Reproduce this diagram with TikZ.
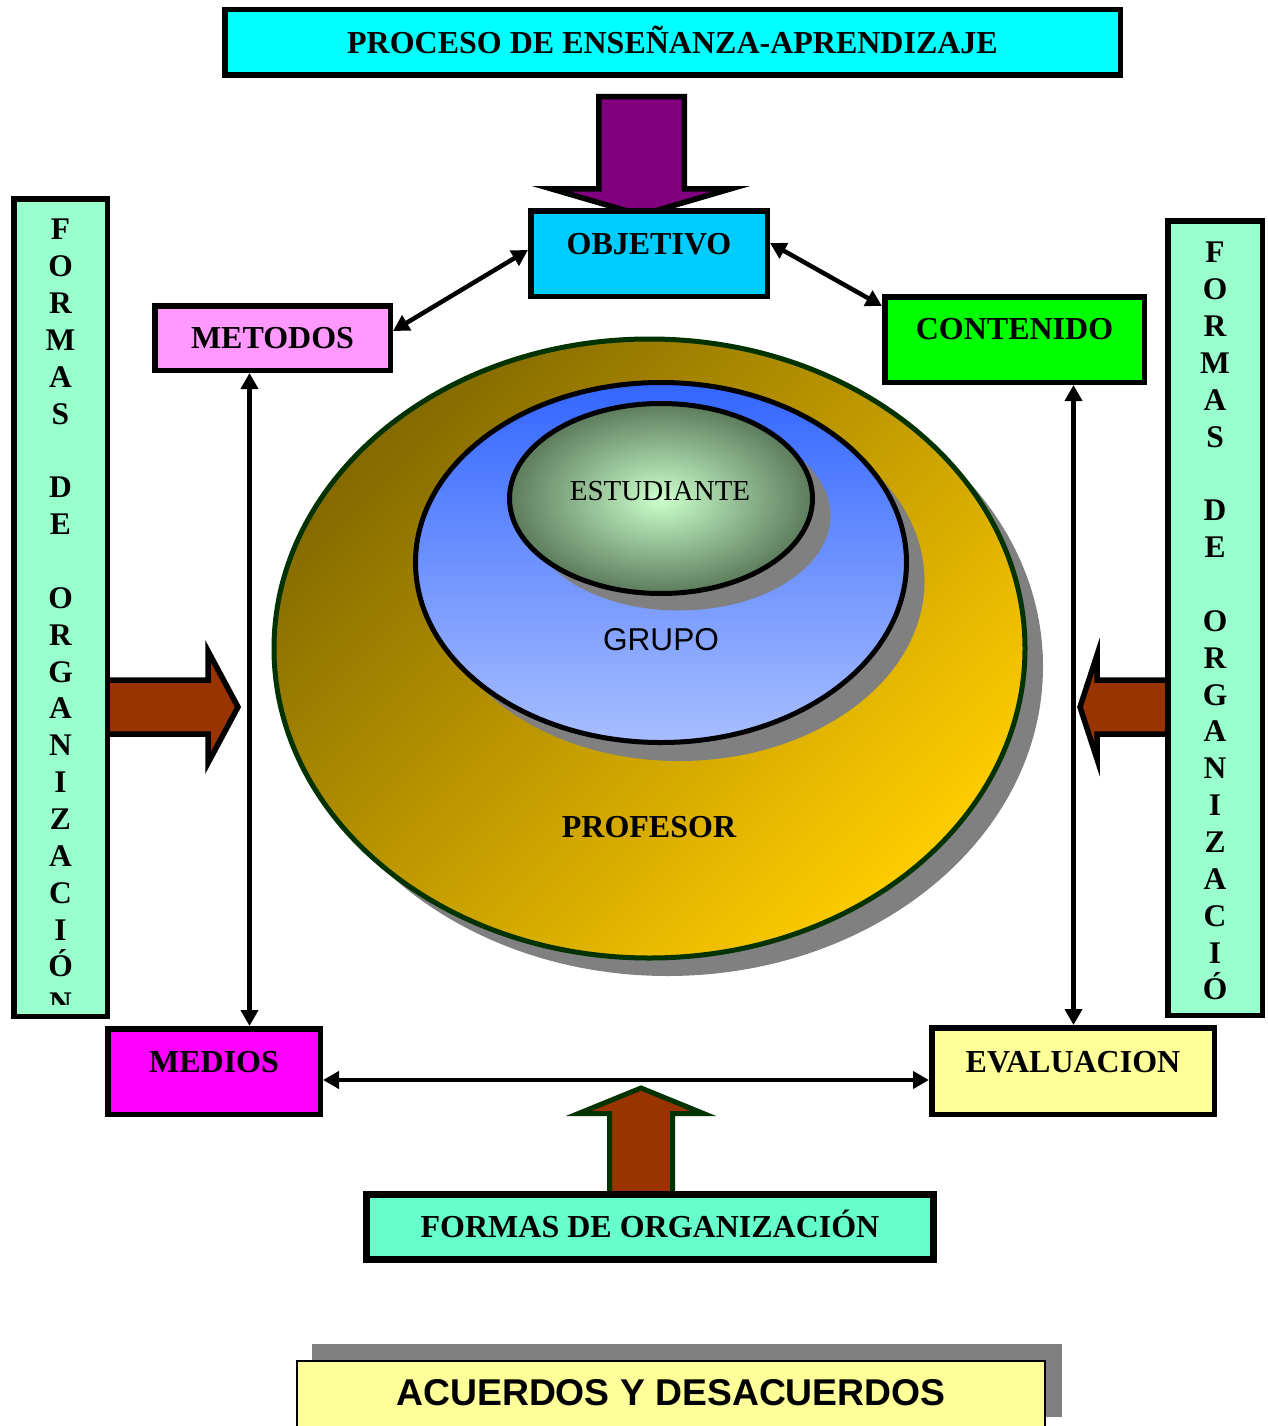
\documentclass[tikz,border=0pt]{standalone}
\usepackage{fontspec}
\setmainfont{Liberation Serif}
\setsansfont{Liberation Sans}
\usetikzlibrary{arrows.meta}
\definecolor{cyanT}{HTML}{00FFFF}
\definecolor{objC}{HTML}{00CCFF}
\definecolor{metC}{HTML}{FF99FF}
\definecolor{conC}{HTML}{00FF00}
\definecolor{medC}{HTML}{FF00FF}
\definecolor{evaC}{HTML}{FFFF99}
\definecolor{forC}{HTML}{66FFCC}
\definecolor{mintC}{HTML}{99FFCC}
\definecolor{purpC}{HTML}{800080}
\definecolor{brownC}{HTML}{993300}
\definecolor{dgreenC}{HTML}{003300}
\definecolor{shadowC}{HTML}{808080}
\definecolor{goldA}{HTML}{846A00}
\definecolor{goldB}{HTML}{FFCC00}
\definecolor{blueA}{HTML}{3366FF}
\definecolor{blueB}{HTML}{A8BEFF}
\definecolor{greenA}{HTML}{CCFFCC}
\definecolor{greenB}{HTML}{5C7C5C}
\tikzset{
  bx/.style={draw=black, line width=5.5pt, inner sep=0pt,
    font=\fontsize{32}{37}\selectfont\bfseries, text height=21.2pt, text depth=0pt},
  dbl/.style={line width=4.5pt,
    arrows={Triangle[length=16pt,width=17pt]-Triangle[length=16pt,width=17pt]}},
  blk/.style={line width=5.5pt, line join=miter},
  vtext/.style={font=\fontsize{31.5}{36.85}\selectfont\bfseries, align=center,
    inner sep=0pt, anchor=north},
}
\begin{document}
\begin{tikzpicture}[x=1pt,y=-1pt]
\useasboundingbox (0,0) rectangle (1268,1426);
\fill[white] (0,0) rectangle (1268,1426);

% top arrow and boxes
\draw[blk, fill=purpC] (598.75,96.75) -- (684.25,96.75) -- (684.25,188.75) -- (731,188.75)
  -- (641,215) -- (551,188.75) -- (598.75,188.75) -- cycle;
\node[bx, fill=cyanT, minimum width=895.5, minimum height=65.5] (proceso) at (672.5,42.5)
  {PROCESO DE ENSEÑANZA-APRENDIZAJE};
\node[bx, fill=objC, minimum width=236.5, minimum height=85.5, text depth=20pt] (objetivo)
  at (649,253.5) {OBJETIVO};

% ellipses
\fill[shadowC] (667.5,666.5) ellipse [x radius=375.5, y radius=309.5];
\path[draw=dgreenC, line width=5pt, top color=goldA, bottom color=goldB, shading angle=45]
  (649.5,648.5) ellipse [x radius=375.5, y radius=309.5];
\fill[shadowC] (679,581) ellipse [x radius=245.5, y radius=180];
\path[draw=black, line width=5pt, top color=blueA, bottom color=blueB]
  (661,562.5) ellipse [x radius=245.5, y radius=180];
\fill[shadowC] (679,515.5) ellipse [x radius=151.5, y radius=95];
\path[draw=black, line width=5pt, inner color=greenA, outer color=greenB]
  (661,498.5) ellipse [x radius=151.5, y radius=95];
\node[inner sep=0pt, font=\fontsize{29}{34}\selectfont, text height=19.2pt, text depth=0pt]
  (estudiante) at (660,490.5) {ESTUDIANTE};
\node[inner sep=0pt, font=\fontsize{31.6}{36}\selectfont\sffamily, text height=22.6pt, text depth=0pt]
  (grupo) at (661,639) {GRUPO};
\node[inner sep=0pt, font=\fontsize{32}{37}\selectfont\bfseries, text height=21.2pt, text depth=0pt]
  (profesor) at (649,826.5) {PROFESOR};

% corner boxes
\node[bx, fill=metC, minimum width=235.5, minimum height=64.5] (metodos) at (272.5,338) {METODOS};
\node[bx, fill=conC, minimum width=259.5, minimum height=85.5, text depth=21pt] (contenido)
  at (1014.5,339.5) {CONTENIDO};
\node[bx, fill=medC, minimum width=212.5, minimum height=85.5, text depth=19pt] (medios)
  at (214,1071.5) {MEDIOS};
\node[bx, fill=evaC, minimum width=282.5, minimum height=86.5, text depth=18pt] (evaluacion)
  at (1073,1071) {EVALUACION};

% side arrows
\draw[blk, fill=brownC] (100,680) -- (208,680) -- (208,651) -- (238,707) -- (208,763)
  -- (208,734) -- (100,734) -- cycle;
\draw[blk, fill=brownC] (1175,680) -- (1097,680) -- (1097,655) -- (1080,707) -- (1097,759)
  -- (1097,734) -- (1175,734) -- cycle;

% vertical boxes
\node[bx, fill=mintC, minimum width=93.5, minimum height=817.5] (formasL) at (60.5,607.5) {};
\begin{scope}
  \clip (14,200) rectangle (107,1004);
  \node[vtext] (formasLtext) at (60.5,219.1)
    {F\\O\\R\\M\\A\\S\\~\\D\\E\\~\\O\\R\\G\\A\\N\\I\\Z\\A\\C\\I\\Ó\\N};
\end{scope}
\node[bx, fill=mintC, minimum width=94.5, minimum height=794.5] (formasR) at (1215,618) {};
\begin{scope}
  \clip (1168,222) rectangle (1262,1003);
  \node[vtext] (formasRtext) at (1215,242.1)
    {F\\O\\R\\M\\A\\S\\~\\D\\E\\~\\O\\R\\G\\A\\N\\I\\Z\\A\\C\\I\\Ó\\N};
\end{scope}

% connectors
\coordinate (lx) at (249.5,0);
\coordinate (rx) at (1073.5,0);
\coordinate (hy) at (0,1080);
\draw[dbl] (metodos.south -| lx) -- (medios.north -| lx);
\draw[dbl] (contenido.south -| rx) -- (evaluacion.north -| rx);
\draw[dbl] (medios.east |- hy) -- (evaluacion.west |- hy);
\draw[dbl] ([yshift=7pt]metodos.east) -- ([yshift=3.5pt]objetivo.west);
\draw[dbl] ([yshift=10.5pt]objetivo.east) -- ([yshift=-12pt]contenido.north west);

% bottom arrow and box
\draw[line width=5pt, line join=miter, draw=dgreenC, fill=brownC] (609.5,1197) -- (609.5,1113.5)
  -- (578.5,1113.5) -- (641,1088) -- (703.5,1113.5) -- (672.5,1113.5) -- (672.5,1197) -- cycle;
\node[bx, line width=7pt, fill=forC, minimum width=567, minimum height=65] (formasB)
  at (650,1227) {FORMAS DE ORGANIZACIÓN};

% acuerdos
\fill[shadowC] (312,1344) rectangle (1062,1417);
\node[draw=black, line width=2pt, fill=evaC, minimum width=748, minimum height=71, inner sep=0pt,
  font=\fontsize{37.3}{43}\selectfont\sffamily\bfseries, text height=26.7pt, text depth=8pt]
  (acuerdos) at (671,1396.5) {ACUERDOS Y DESACUERDOS};
\end{tikzpicture}
\end{document}
